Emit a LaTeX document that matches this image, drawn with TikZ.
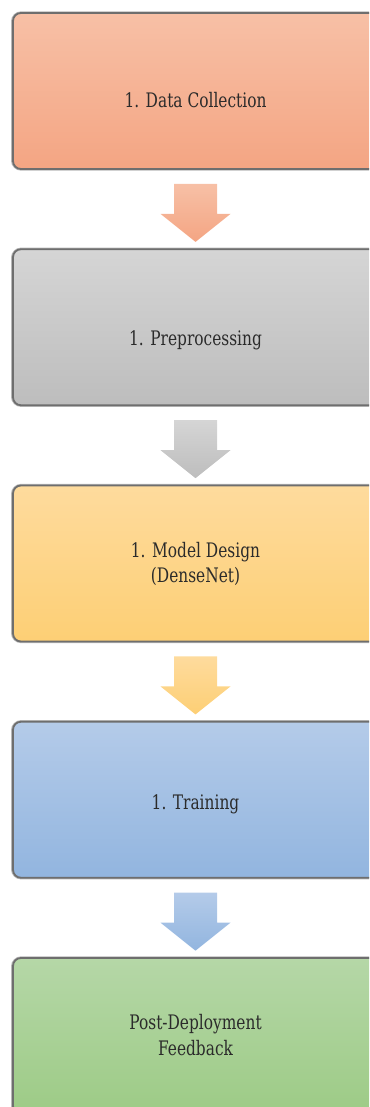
\documentclass[tikz,border=0pt]{standalone}
\usepackage{fontspec}
\setmainfont[FakeStretch=0.77]{DejaVu Serif}
\usetikzlibrary{calc}

% fill colours, top and bottom of each gradient
\definecolor{redtop}{HTML}{F7C0A6}
\definecolor{redbot}{HTML}{F4A583}
\definecolor{graytop}{HTML}{D5D5D5}
\definecolor{graybot}{HTML}{BDBDBD}
\definecolor{yeltop}{HTML}{FEDB9D}
\definecolor{yelbot}{HTML}{FDCF75}
\definecolor{bluetop}{HTML}{B4CBE9}
\definecolor{bluebot}{HTML}{92B5DF}
\definecolor{greentop}{HTML}{B5D7A7}
\definecolor{greenbot}{HTML}{9DCB86}
\definecolor{boxline}{HTML}{6E6E6E}
\definecolor{boxshade}{HTML}{B8B8B8}
\definecolor{txt}{HTML}{2B2B2B}

\tikzset{
  stage/.style={draw=boxline, line width=1.8pt, rounded corners=8pt,
    minimum width=365pt, minimum height=156pt, inner sep=0pt},
  stageshadow/.style={draw=boxshade, line width=2.4pt, rounded corners=9pt},
  lbl/.style={font=\fontsize{20}{25.5}\selectfont, text=txt, align=center,
    inner sep=0pt, anchor=base},
  blockarrow/.style={draw=none}
}

% block arrow hanging below a stage box
\newcommand{\downarrowfrom}[3]{%
  \path[blockarrow, top color=#2, bottom color=#3]
    ($(#1.south)+(-21.5,14)$) -- ($(#1.south)+(21.5,14)$)
    -- ($(#1.south)+(21.5,44)$) -- ($(#1.south)+(35,44)$)
    -- ($(#1.south)+(0,72)$) -- ($(#1.south)+(-35,44)$)
    -- ($(#1.south)+(-21.5,44)$) -- cycle;}

\begin{document}
\begin{tikzpicture}[x=1pt, y=-1pt]
  \useasboundingbox (0,0) rectangle (369,1107);
  \clip (0,0) rectangle (369,1107);

  % soft edge under the stage boxes
  \foreach \cy in {91, 327.25, 563.5, 799.75, 1036}
    \draw[stageshadow] (12.2,\cy-78.5) rectangle (379,\cy+78.5);

  % stage boxes
  \node[stage, top color=redtop, bottom color=redbot] (b1) at (195.5,91) {};
  \node[stage, top color=graytop, bottom color=graybot] (b2) at (195.5,327.25) {};
  \node[stage, top color=yeltop, bottom color=yelbot] (b3) at (195.5,563.5) {};
  \node[stage, top color=bluetop, bottom color=bluebot] (b4) at (195.5,799.75) {};
  \node[stage, top color=greentop, bottom color=greenbot] (b5) at (195.5,1036) {};

  % stage labels (base = baseline of the last line)
  \node[lbl] (t1) at ($(b1.north)+(0,95)$) {1. Data Collection};
  \node[lbl] (t2) at ($(b2.north)+(0,97)$) {1. Preprocessing};
  \node[lbl] (t3) at ($(b3.north)+(0,98)$) {1. Model Design\\(DenseNet)};
  \node[lbl] (t4) at ($(b4.north)+(0,89)$) {1. Training};
  \node[lbl] (t5) at ($(b5.north)+(0,98)$) {Post-Deployment\\Feedback};

  % block arrows between the stages
  \downarrowfrom{b1}{redtop}{redbot}
  \downarrowfrom{b2}{graytop}{graybot}
  \downarrowfrom{b3}{yeltop}{yelbot}
  \downarrowfrom{b4}{bluetop}{bluebot}
\end{tikzpicture}
\end{document}
